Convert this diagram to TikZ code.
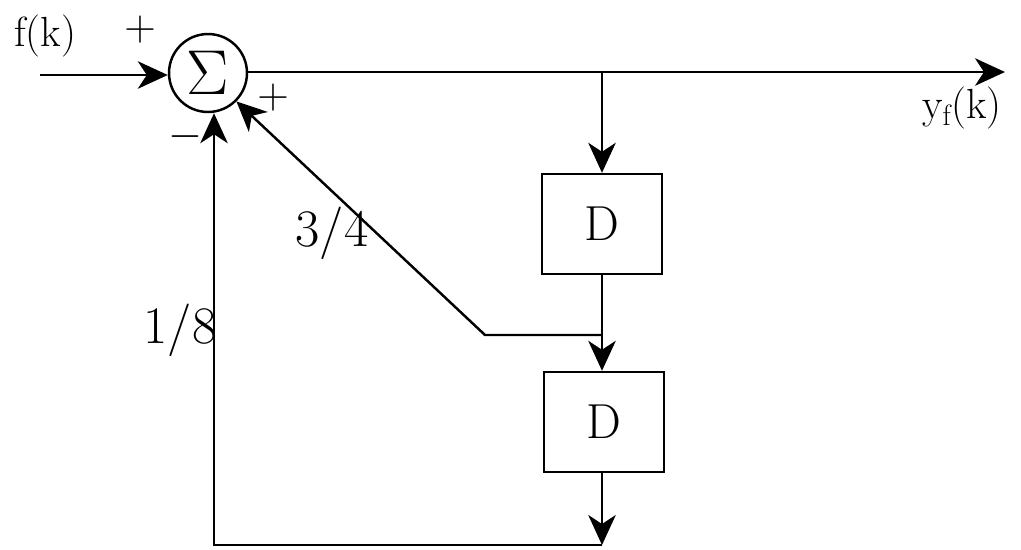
\documentclass[tikz,border=0pt]{standalone}
\usepackage{graphicx}
\usetikzlibrary{arrows.meta}
\begin{document}
\begin{tikzpicture}[x=0.02cm,y=-0.02cm,
  line width=1.4pt,
  arr/.style={-{Stealth[length=0.6cm,width=0.55cm,inset=0.18cm]}},
  lbl/.style={inner sep=0pt,font=\fontsize{24}{28}\selectfont},
  gain/.style={inner sep=0pt,font=\fontsize{30}{34}\selectfont},
  delay/.style={draw,line width=1.4pt,minimum width=2.4cm,minimum height=2cm,inner sep=0pt,font=\fontsize{28}{32}\selectfont},
  summer/.style={draw,circle,minimum size=1.56cm,inner sep=0pt,font=\fontsize{24}{28}\selectfont}]
\useasboundingbox (0,0) rectangle (1021,549);
\node[summer] (sum) at (208,73) {\scalebox{1.45}{$\Sigma$}};
\node[delay] (d1) at (602,224) {D};
\node[delay] (d2) at (604,422) {D};
\coordinate (in) at (40,75);
\coordinate (out) at (1005,72);
\coordinate (branch) at (602,72);
\coordinate (tap) at (602,335);
\coordinate (corner) at (485,335);
\coordinate (bottom) at (602,545);
\coordinate (bl) at (214,545);
% connectors
\draw[arr] (in) -- (sum.west |- in);
\draw[arr] (sum.east |- out) -- (out);
\draw[arr] (branch) -- (d1.north -| branch);
\draw[arr] (d1.south -| branch) -- (d2.north -| branch);
\draw[arr] (tap) -- (corner) -- (sum.-45);
\draw[arr] (d2.south -| branch) -- (bottom);
\draw[arr] (bottom) -- (bl) -- (bl |- sum.south);
% labels
\node[lbl] (lf) at (45,36) {f(k)};
\node[lbl] (lp1) at (140,30) {$+$};
\node[lbl] (lp2) at (273,98) {$+$};
\node[lbl] (lm) at (185,137) {$-$};
\node[gain] (g34) at (332,233) {3/4};
\node[gain] (g18) at (180,330) {1/8};
\node[lbl] (ly) at (962,108) {y\textsubscript{f}(k)};
\end{tikzpicture}
\end{document}
